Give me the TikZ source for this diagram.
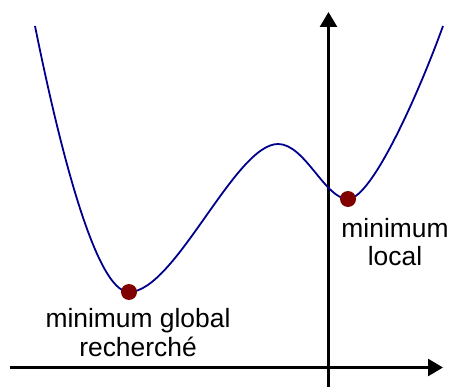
\documentclass[tikz,border=0pt]{standalone}
\usepackage{fontspec}
\setmainfont{Liberation Sans}
\usetikzlibrary{arrows.meta}
\definecolor{curveblue}{RGB}{0,0,140}
\definecolor{dotred}{RGB}{128,0,0}
\begin{document}
\begin{tikzpicture}[x=1pt,y=-1pt,
  axis/.style={line width=2.7pt,-{Triangle[length=15pt,width=17pt]}},
  curve/.style={curveblue,line width=1.8pt},
  mindot/.style={circle,fill=dotred,inner sep=0pt,minimum size=16pt},
  lbl/.style={align=center,font=\fontsize{26.4}{28.5}\selectfont,inner sep=0pt}]
\useasboundingbox (0,0) rectangle (449,387);
\coordinate (xs) at (10,367.5);
\coordinate (xe) at (443,367.5);
\coordinate (ys) at (328.5,387);
\coordinate (ye) at (328.5,12);
\draw[axis] (xs) -- (xe);
\draw[axis] (ys) -- (ye);
\coordinate (c0) at (35,26);
\coordinate (gm) at (129,292);
\coordinate (mx) at (278,144);
\coordinate (lm) at (348,199);
\coordinate (c4) at (443,26);
\draw[curve] (c0) .. controls (58,140) and (95,292) .. (gm)
  .. controls (175,292) and (235,144) .. (mx)
  .. controls (305,144) and (325,199) .. (lm)
  .. controls (372,199) and (420,90) .. (c4);
\node[mindot] (gmin) at (gm) {};
\node[mindot] (lmin) at (lm) {};
\node[lbl] (glabel) at (138,332.5) {minimum global\\recherché};
\node[lbl] (llabel) at (395,242) {minimum\\local};
\end{tikzpicture}
\end{document}
